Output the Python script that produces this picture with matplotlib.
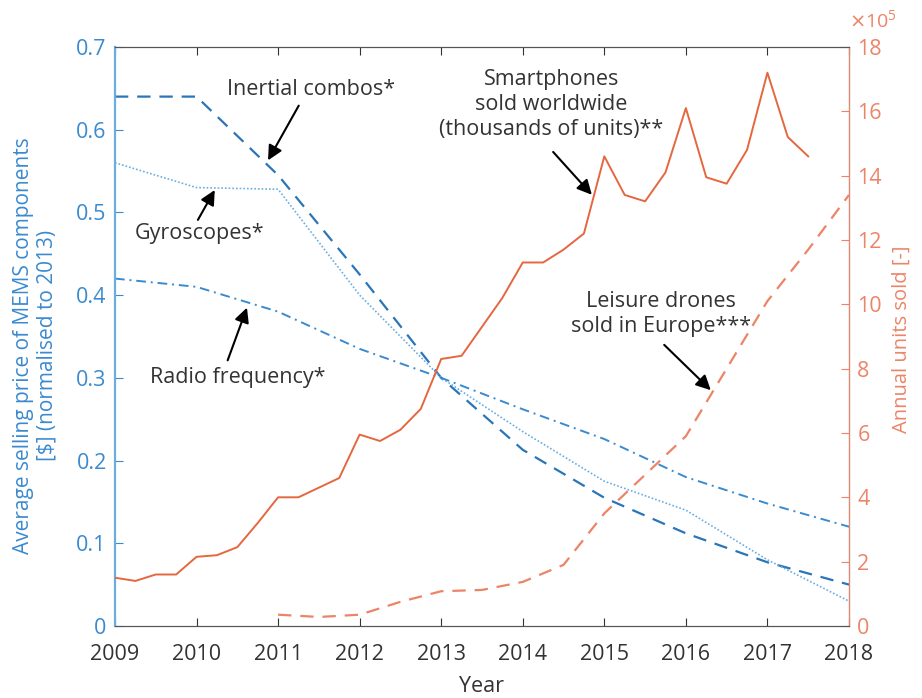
import numpy as np
import matplotlib.pyplot as plt
from matplotlib.ticker import ScalarFormatter

plt.rcParams['font.family'] = ['Open Sans', 'DejaVu Sans']

# MEMS average selling price (normalised to 2013)
years = [2009, 2010, 2011, 2012, 2013, 2014, 2015, 2016, 2017, 2018]
inertial = [0.64, 0.64, 0.545, 0.425, 0.30, 0.213, 0.155, 0.112, 0.077, 0.05]
gyro = [0.56, 0.53, 0.528, 0.40, 0.30, 0.235, 0.175, 0.14, 0.08, 0.03]
radio = [0.42, 0.41, 0.38, 0.335, 0.30, 0.262, 0.226, 0.18, 0.148, 0.12]

# smartphones sold worldwide, quarterly (x 10^5)
phone_q = np.arange(2009, 2017.51, 0.25)
phones = [1.5, 1.4, 1.6, 1.6, 2.15, 2.2, 2.45, 3.2,
          4.0, 4.0, 4.3, 4.6, 5.95, 5.75, 6.1, 6.75,
          8.3, 8.4, 9.3, 10.2, 11.3, 11.3, 11.7, 12.2,
          14.6, 13.4, 13.2, 14.1, 16.1, 13.95, 13.75, 14.8,
          17.2, 15.2, 14.6]

# leisure drones sold in Europe (x 10^5)
drone_x = [2011, 2011.5, 2012, 2012.5, 2013, 2013.5, 2014, 2014.5,
           2015, 2015.5, 2016, 2016.5, 2017, 2017.5, 2018]
drones = [0.35, 0.28, 0.35, 0.75, 1.08, 1.12, 1.37, 1.9,
          3.5, 4.7, 5.9, 8.0, 10.1, 11.7, 13.4]

phones = np.array(phones) * 1e5
drones = np.array(drones) * 1e5


class Order5(ScalarFormatter):
    # always label the units axis in multiples of 10^5
    def _set_order_of_magnitude(self):
        self.orderOfMagnitude = 5

    def _set_format(self):
        self.format = '%d'


blue = '#3a8ad0'
blue_dark = '#2a75b8'
blue_light = '#6aaee0'
red = '#e5673f'
red_light = '#ec8468'
txt = '#333333'

fig = plt.figure(figsize=(9.22, 6.98), dpi=100)
ax = fig.add_axes([0.1247, 0.1032, 0.7961, 0.8295])
ax2 = ax.twinx()

ax.plot(years, inertial, color=blue_dark, lw=1.6, ls=(0, (6, 4)))
ax.plot(years, gyro, color=blue_light, lw=1.2, ls=(0, (1, 1.2)))
ax.plot(years, radio, color=blue, lw=1.4, ls=(0, (5, 2.5, 1, 2.5)))

ax2.plot(phone_q, phones, color=red, lw=1.4)
ax2.plot(drone_x, drones, color=red_light, lw=1.6, ls=(0, (6, 4)))

ax.set_xlim(2009, 2018)
ax.set_ylim(0, 0.7)
ax2.set_ylim(0, 18e5)
ax.set_xticks(range(2009, 2019))
ax.set_yticks(np.arange(0, 0.71, 0.1))
ax.set_yticklabels(['0', '0.1', '0.2', '0.3', '0.4', '0.5', '0.6', '0.7'])
ax2.set_yticks(np.arange(0, 18.1e5, 2e5))

fmt = Order5(useMathText=True, useOffset=False)
ax2.yaxis.set_major_formatter(fmt)
ax2.yaxis.OFFSETTEXTPAD = 14
off = ax2.yaxis.get_offset_text()
off.set_color(red_light)
off.set_fontsize(14)
off.set_horizontalalignment('left')

for a in (ax, ax2):
    a.tick_params(direction='in', length=6, labelsize=15.5)
ax.tick_params(axis='x', colors=txt, top=True, pad=13)
ax.tick_params(axis='y', colors=blue, pad=6)
ax2.tick_params(axis='y', colors=red_light, pad=6)

ax.spines['left'].set_color(blue_light)
ax.spines['left'].set_linewidth(1.6)
for s in ('top', 'bottom'):
    ax.spines[s].set_color('#555555')
    ax2.spines[s].set_color('#555555')
ax2.spines['right'].set_color(red_light)
ax2.spines['left'].set_visible(False)

ax.set_xlabel('Year', color=txt, fontsize=15.5, labelpad=8)
ax.set_ylabel('Average selling price of MEMS components\n[$] (normalised to 2013)',
              color=blue, fontsize=15, linespacing=1.15)
ax.yaxis.set_label_coords(-0.078, 0.484)
ax2.set_ylabel('Annual units sold [-]', color=red_light, fontsize=14.5)
ax2.yaxis.set_label_coords(1.058, 0.496)

arrow = dict(arrowstyle='-|>', color='black', lw=1.5, mutation_scale=22)
fs = 15.5

# price annotations (left axis)
ax.text(2011.40, 0.648, 'Inertial combos*', ha='center', va='center', fontsize=fs, color=txt)
ax.annotate('', xy=(2010.86, 0.56), xytext=(2011.27, 0.632), arrowprops=arrow)
ax.text(2010.04, 0.475, 'Gyroscopes*', ha='center', va='center', fontsize=fs, color=txt)
ax.annotate('', xy=(2010.24, 0.53), xytext=(2010.0, 0.488), arrowprops=arrow)
ax.text(2010.50, 0.301, 'Radio frequency*', ha='center', va='center', fontsize=fs, color=txt)
ax.annotate('', xy=(2010.63, 0.388), xytext=(2010.37, 0.318), arrowprops=arrow)

# units annotations (right axis)
ax2.text(2014.35, 16.2e5, 'Smartphones\nsold worldwide\n(thousands of units)**',
         ha='center', va='center', fontsize=fs, color=txt, linespacing=1.25)
ax2.annotate('', xy=(2014.87, 13.34e5), xytext=(2014.35, 14.8e5), arrowprops=arrow)
ax2.text(2015.69, 9.7e5, 'Leisure drones\nsold in Europe***',
         ha='center', va='center', fontsize=fs, color=txt, linespacing=1.25)
ax2.annotate('', xy=(2016.33, 7.27e5), xytext=(2015.71, 8.8e5), arrowprops=arrow)

fig.savefig('out.png', dpi=100)
